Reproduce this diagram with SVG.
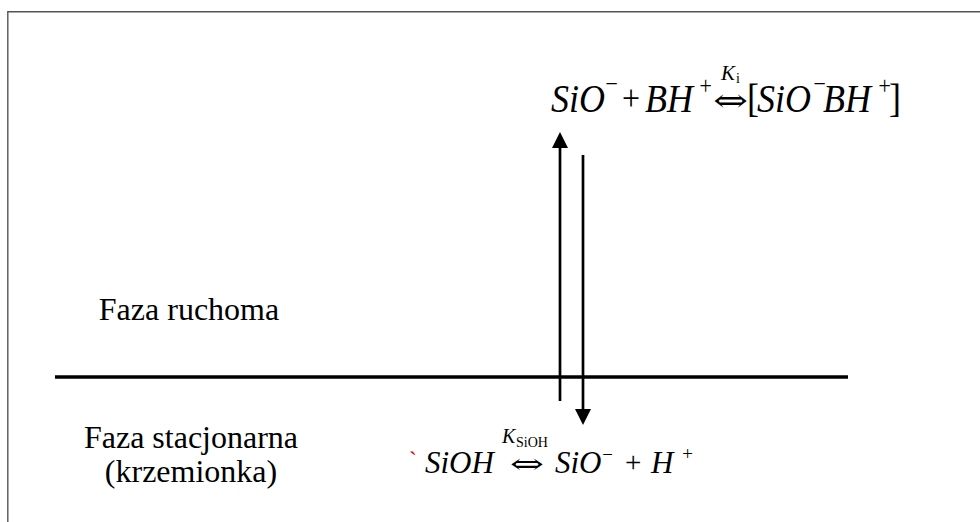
<svg xmlns="http://www.w3.org/2000/svg" width="980" height="522" viewBox="0 0 980 522" font-family="Liberation Serif, Times New Roman, serif">
<defs>
<style>
.lbl{font-family:"Liberation Serif","Times New Roman",serif;font-size:32px;fill:#000}
.eq{font-family:"Liberation Serif","Times New Roman",serif;font-style:italic;fill:#000}
.up{font-family:"Liberation Serif","Times New Roman",serif;font-style:normal;fill:#000}
.arr{font-family:"DejaVu Sans","DejaVu Serif",sans-serif;font-weight:200;font-style:normal;fill:#000}
.ln{stroke:#000;stroke-width:2.7;fill:none}
</style>
<marker id="ah" viewBox="0 0 16 16" refX="0" refY="8" markerWidth="16" markerHeight="16" markerUnits="userSpaceOnUse" orient="auto">
<path d="M0,0 L16,8 L0,16 Z" fill="#000"/>
</marker>
</defs>
<rect width="980" height="522" fill="#fff"/>
<path d="M7.8,522 V11.8 H980" stroke="#555" stroke-width="1.4" fill="none"/>
<g id="interface">
<line x1="55" y1="377" x2="848" y2="377" stroke="#000" stroke-width="3.6"/>
</g>
<g id="connectors">
<line class="ln" x1="560" y1="401" x2="560" y2="148" marker-end="url(#ah)"/>
<line class="ln" x1="583" y1="155" x2="583" y2="409" marker-end="url(#ah)"/>
</g>
<g id="mobile-phase">
<text class="lbl" x="189" y="320" text-anchor="middle">Faza ruchoma</text>
</g>
<g id="stationary-phase">
<text class="lbl" x="191" y="448" text-anchor="middle">Faza stacjonarna</text>
<text class="lbl" x="191" y="482" text-anchor="middle">(krzemionka)</text>
</g>
<g id="top-equation">
<g transform="translate(0,112) scale(1,1.12) translate(0,-112)">
<text class="eq" font-size="36" y="112"><tspan x="551">SiO</tspan><tspan x="604" y="94" font-size="22">−</tspan></text>
<text class="up" font-size="32" x="622" y="110">+</text>
<text class="eq" font-size="36" y="112"><tspan x="645">BH</tspan><tspan x="698" y="96" font-size="22">+</tspan></text>
<text class="arr" font-size="28" transform="translate(713,111) scale(1.5,1)">⇔</text>
<text class="eq" font-size="36" y="112"><tspan x="747" font-style="normal">[</tspan><tspan x="757">SiO</tspan><tspan x="812" y="94" font-size="22">−</tspan><tspan x="823" y="112">BH</tspan><tspan x="877" y="96" font-size="22">+</tspan><tspan x="889" y="112" font-style="normal">]</tspan></text>
</g>
<text class="eq" font-size="21" x="721" y="80">K</text>
<text class="up" font-size="14" x="736" y="83">i</text>
</g>
<g id="bottom-equation">
<text x="409" y="468" font-size="24" fill="#e00000">`</text>
<text class="eq" font-size="31" y="473"><tspan x="425">SiOH</tspan></text>
<text class="eq" font-size="20" x="502" y="443">K</text>
<text class="up" font-size="14" x="516" y="447">SiOH</text>
<text class="arr" font-size="27" transform="translate(510,473) scale(1.5,1)">⇔</text>
<text class="eq" font-size="31" y="473"><tspan x="555">SiO</tspan><tspan x="601" y="461" font-size="19">−</tspan></text>
<text class="up" font-size="29" x="625" y="472">+</text>
<text class="eq" font-size="31" y="473"><tspan x="651">H</tspan><tspan x="681" y="460" font-size="19">+</tspan></text>
</g>
</svg>
